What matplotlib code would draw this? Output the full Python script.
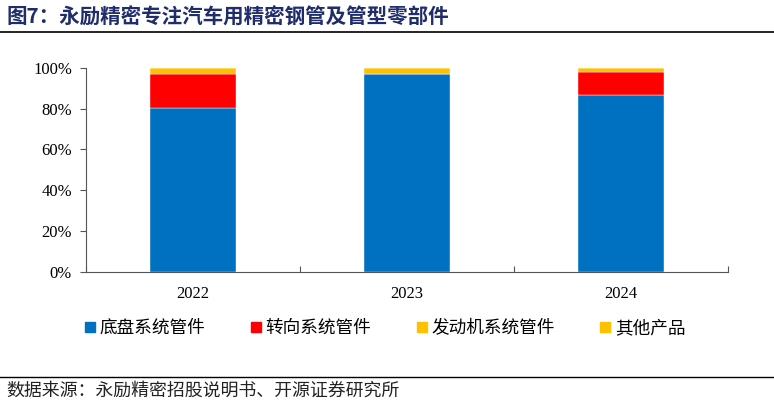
import matplotlib.pyplot as plt
import numpy as np
from matplotlib.ticker import PercentFormatter
from matplotlib.lines import Line2D

years = ['2022', '2023', '2024']
chassis = [80.2, 96.8, 86.5]
steering = [16.9, 0.0, 11.5]
engine = [2.5, 2.8, 1.6]
other = [0.4, 0.4, 0.4]

names = ['底盘系统管件', '转向系统管件', '发动机系统管件', '其他产品']
colors = ['#0070C0', '#FF0000', '#FFC000', '#FFC000']

cjk = ['Noto Sans CJK SC', 'DejaVu Sans']
serif = ['Liberation Serif', 'DejaVu Serif']

fig = plt.figure(figsize=(7.74, 4.05), dpi=100)
ax = fig.add_axes([0.111, 0.328, 0.8296, 0.505])

x = np.arange(len(years))
bottom = np.zeros(len(years))
for vals, name, c in zip([chassis, steering, engine, other], names, colors):
    v = np.array(vals) / 100
    ax.bar(x, v, 0.4, bottom=bottom, color=c, label=name, edgecolor='white', linewidth=0.3)
    bottom += v

ax.set_ylim(0, 1)
ax.set_xlim(-0.5, 2.5)
ax.yaxis.set_major_formatter(PercentFormatter(1.0, decimals=0))
ax.set_yticks(np.arange(0, 1.01, 0.2))
ax.set_xticks([-0.5, 0.5, 1.5, 2.5])
ax.set_xticklabels([])
ax.set_xticks(x, minor=True)
ax.set_xticklabels(years, minor=True)
ax.tick_params(axis='x', which='minor', length=0, pad=10)
ax.tick_params(axis='x', which='major', length=4, direction='in', color='#555555')
ax.tick_params(axis='y', length=4, direction='out', color='#555555', pad=6)
for lab in ax.get_yticklabels() + ax.get_xticklabels(minor=True):
    lab.set_family(serif)
    lab.set_fontsize(12)
ax.spines['top'].set_visible(False)
ax.spines['right'].set_visible(False)
ax.spines['left'].set_color('#555555')
ax.spines['bottom'].set_color('#555555')

handles = [Line2D([], [], marker='s', linestyle='', markersize=6.5, color=c) for c in colors]
fig.legend(handles, names, loc='center', bbox_to_anchor=(0.497, 0.19), ncol=4,
           frameon=False, prop={'family': cjk, 'size': 12.7}, handletextpad=0.2,
           columnspacing=2.5, handlelength=0.7)

fig.text(0.008, 0.958, '图7：永励精密专注汽车用精密钢管及管型零部件', family=cjk,
         fontsize=14.8, fontweight='bold', color='#1F2D6B', va='center')
fig.add_artist(Line2D([0, 1], [0.922, 0.922], color='black', linewidth=1.2))
fig.add_artist(Line2D([0, 1], [0.069, 0.069], color='black', linewidth=1.0))
fig.text(0.008, 0.035, '数据来源：永励精密招股说明书、开源证券研究所', family=cjk,
         fontsize=12.9, color='#222222', va='center')

fig.savefig('out.png', dpi=100)
